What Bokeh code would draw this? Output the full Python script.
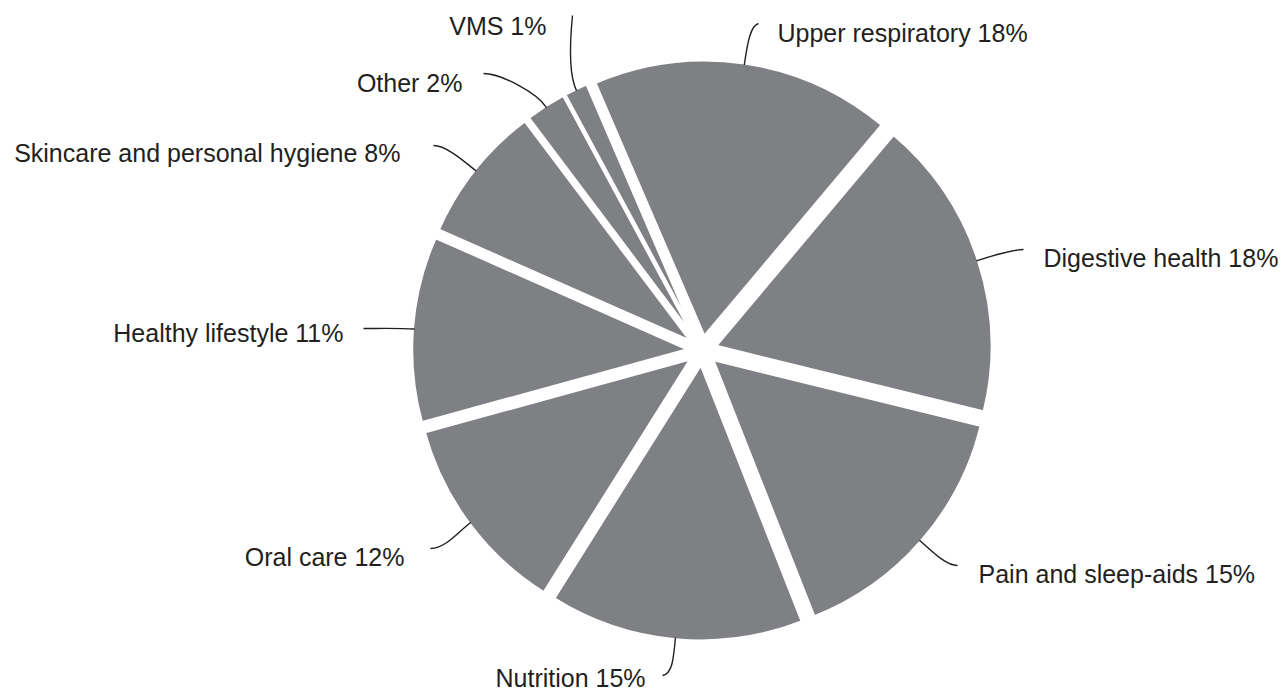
import math
from bokeh.plotting import figure
from bokeh.models import Range1d, ColumnDataSource
from bokeh.core.properties import value
from bokeh.embed import file_html
from bokeh.resources import INLINE

# ---- data (clockwise from the top, starting with Upper respiratory) ----
categories = ["Upper respiratory", "Digestive health", "Pain and sleep-aids",
              "Nutrition", "Oral care", "Healthy lifestyle",
              "Skincare and personal hygiene", "Other", "VMS"]
shares = [17.6, 17.7, 15.2, 14.9, 11.8, 10.9, 8.1, 2.4, 1.4]
shown_pct = [18, 18, 15, 15, 12, 11, 8, 2, 1]

# ---- layout constants ----
W, H = 1281, 692
CX, CY = 701.7, 349.9          # pie centre (screen px, y down)
R = 276.5                      # wedge radius
EXPLODE = 14.0                 # offset of each slice along its mid angle
START = -23.3                  # degrees clockwise from 12 o'clock
GRAY = "#7f8084"
INK = "#231f20"
FONT = "Liberation Sans"

label_x = [777, 1043, 978, 495, 404, 343, 400, 462, 546]
label_y = [32, 257, 573, 677.5, 556, 332, 152, 82.5, 25]
label_align = ["left", "left", "left", "left", "right", "right", "right", "right", "right"]
lead_end_x = [758, 1023, 957, 662, 430, 363, 433, 483, 572]
lead_end_y = [23, 249, 565, 675, 548, 328, 145, 73, 15]
lead_end_dir = [(-1, 0.3), (-1, 0.05), (-1, 0), (1, -0.2), (1, 0), (1, 0), (1, 0), (1, 0), (-0.1, 1)]
lead_end_len = [8, 12, 12, 10, 15, 15, 13, 17, 25]
lead_edge_len = [25, 15, 15, 22, 15, 15, 15, 18, 18]

total = sum(shares)
bounds = [START]
for s in shares:
    bounds.append(bounds[-1] + 360.0 * s / total)

def sy(y):
    return H - y

wx, wy, sa, ea = [], [], [], []
mids = []
for i in range(len(shares)):
    t0, t1 = bounds[i], bounds[i + 1]
    tm = 0.5 * (t0 + t1)
    mids.append(tm)
    ux, uy = math.sin(math.radians(tm)), -math.cos(math.radians(tm))
    wx.append(CX + EXPLODE * ux)
    wy.append(sy(CY + EXPLODE * uy))
    sa.append(math.radians(90 - t1))
    ea.append(math.radians(90 - t0))

p = figure(width=W, height=H, x_range=Range1d(0, W), y_range=Range1d(0, H),
           output_backend="svg", toolbar_location=None,
           x_axis_type=None, y_axis_type=None, min_border=0)
p.grid.visible = False
p.outline_line_color = None
p.background_fill_color = "white"
p.border_fill_color = "white"

src = ColumnDataSource(dict(x=wx, y=wy, start=sa, end=ea, cat=categories, share=shares))
p.wedge(x="x", y="y", radius=R, radius_units="screen", start_angle="start", end_angle="end",
        direction="anticlock", source=src, fill_color=GRAY, line_color="white", line_width=3)

# leader lines
bx0, by0, bx1, by1, bcx0, bcy0, bcx1, bcy1 = [], [], [], [], [], [], [], []
redge = EXPLODE + R - 2.0
for i, tm in enumerate(mids):
    ux, uy = math.sin(math.radians(tm)), -math.cos(math.radians(tm))
    x0, y0 = CX + redge * ux, CY + redge * uy
    x1, y1 = lead_end_x[i], lead_end_y[i]
    dx, dy = lead_end_dir[i]
    n = math.hypot(dx, dy)
    c0x, c0y = x0 + lead_edge_len[i] * ux, y0 + lead_edge_len[i] * uy
    c1x, c1y = x1 + lead_end_len[i] * dx / n, y1 + lead_end_len[i] * dy / n
    bx0.append(x0); by0.append(sy(y0)); bx1.append(x1); by1.append(sy(y1))
    bcx0.append(c0x); bcy0.append(sy(c0y)); bcx1.append(c1x); bcy1.append(sy(c1y))
p.bezier(x0=bx0, y0=by0, x1=bx1, y1=by1, cx0=bcx0, cy0=bcy0, cx1=bcx1, cy1=bcy1,
         line_color=INK, line_width=1.4)

# labels
texts = [f"{c} {v}%" for c, v in zip(categories, shown_pct)]
for align in ("left", "right"):
    idx = [i for i in range(len(texts)) if label_align[i] == align]
    p.text(x=[label_x[i] for i in idx], y=[sy(label_y[i]) for i in idx],
           text=[texts[i] for i in idx], text_align=align, text_baseline="middle",
           text_font=value(FONT), text_font_size="25px", text_color=INK)

open("out.html", "w").write(file_html(p, INLINE))
